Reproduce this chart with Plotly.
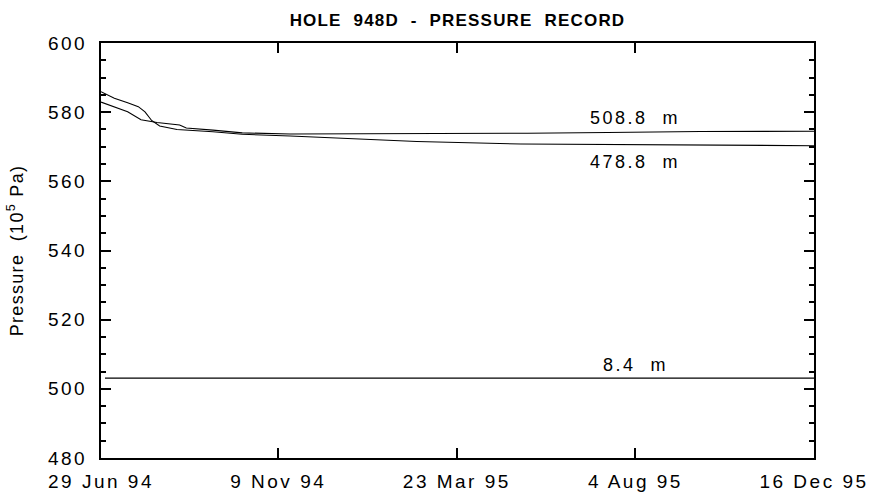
import pandas as pd
import plotly.graph_objects as go

# Record start and time axis ticks
start_date = "1994-06-29"
tick_dates = ["1994-06-29", "1994-11-09", "1995-03-23", "1995-08-04", "1995-12-16"]
tick_labels = ["29 Jun 94", "9 Nov 94", "23 Mar 95", "4 Aug 95", "16 Dec 95"]

# Sensor at 508.8 m (days since start, pressure in 10^5 Pa)
days_508 = [0, 10, 20, 30, 39, 42, 59, 64, 84, 106, 142, 200, 250, 320, 380, 450, 535]
pres_508 = [582.9, 581.6, 580.1, 577.8, 577.2, 577.0, 576.3, 575.4, 574.8, 574.0,
            573.7, 573.7, 573.8, 573.9, 574.1, 574.4, 574.5]

# Sensor at 478.8 m
days_478 = [0, 10, 20, 28, 33, 38, 44, 57, 84, 106, 142, 195, 237, 315, 400, 535]
pres_478 = [585.9, 584.0, 582.7, 581.6, 580.1, 577.6, 576.0, 575.0, 574.35, 573.6,
            573.1, 572.2, 571.5, 570.8, 570.6, 570.3]

# Sensor at 8.4 m
days_8 = [3, 535]
pres_8 = [503.1, 503.1]

series = [
    ("508.8 m", days_508, pres_508, 578.2),
    ("478.8 m", days_478, pres_478, 565.6),
    ("8.4 m", days_8, pres_8, 506.9),
]
label_date = "1995-08-04"

FONT = "Liberation Sans, Arial, Helvetica, sans-serif"
SP = "letter-spacing:2.5px"


def spaced(text, sp=SP):
    return f"<span style='{sp}'>{text}</span>"


t0 = pd.Timestamp(start_date)
fig = go.Figure()
for name, d, p, ylab in series:
    x = t0 + pd.to_timedelta(d, unit="D")
    fig.add_trace(go.Scatter(x=x, y=p, mode="lines", name=name,
                             line=dict(color="black", width=1.1),
                             showlegend=False, hoverinfo="skip"))
    fig.add_annotation(x=label_date, y=ylab, text=spaced(name.replace(" ", "  ")),
                       showarrow=False, xanchor="center", yanchor="middle",
                       font=dict(family=FONT, size=18, color="black"))

fig.update_layout(
    width=870, height=492,
    margin=dict(l=101, r=56, t=43, b=34),
    paper_bgcolor="white", plot_bgcolor="white",
    font=dict(family=FONT, color="black"),
    title=dict(text="<b>" + spaced("HOLE  948D  -  PRESSURE  RECORD", "letter-spacing:1.2px") + "</b>",
               x=(101 + 814) / 2 / 870, xanchor="center", y=0.96, yanchor="middle",
               font=dict(family=FONT, size=17, color="black")),
)

fig.update_xaxes(
    type="date", range=[tick_dates[0], tick_dates[-1]], automargin=False,
    tickmode="array", tickvals=tick_dates, ticktext=[spaced(t) for t in tick_labels],
    ticks="inside", ticklen=10, tickwidth=2, tickcolor="black",
    showline=True, linewidth=2, linecolor="black", mirror="ticks",
    showgrid=False, zeroline=False, ticklabelstandoff=5,
    tickfont=dict(family=FONT, size=19, color="black"),
)
fig.update_yaxes(
    range=[480, 600], tickmode="linear", tick0=480, dtick=20, automargin=False,
    ticks="inside", ticklen=10, tickwidth=2, tickcolor="black",
    minor=dict(ticks="inside", ticklen=5, tickwidth=2, tickcolor="black", dtick=5, showgrid=False),
    showline=True, linewidth=2, linecolor="black", mirror="ticks",
    showgrid=False, zeroline=False, ticklabelstandoff=8,
    tickfont=dict(family=FONT, size=19, color="black"),
    labelalias={v: spaced(str(v)) for v in range(480, 601, 20)},
    title=dict(text=spaced("Pressure  (10<sup>5</sup> Pa)", "letter-spacing:1.3px"),
               font=dict(family=FONT, size=18, color="black"), standoff=20),
)

fig.write_html("out.html")
